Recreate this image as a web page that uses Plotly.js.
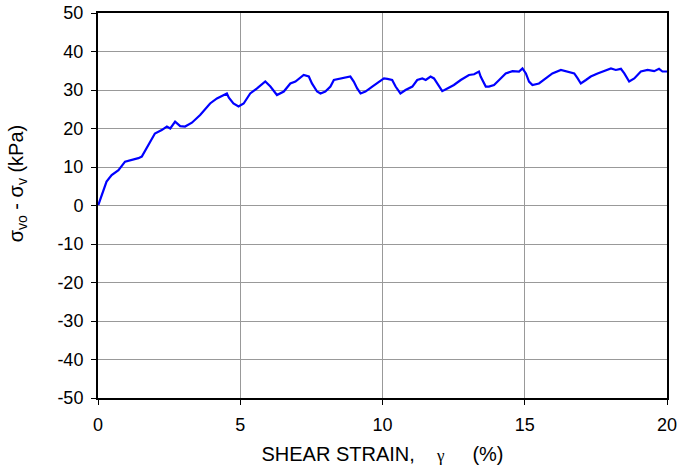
<!DOCTYPE html>
<html>
<head>
<meta charset="utf-8">
<script src="https://cdn.plot.ly/plotly-3.0.1.min.js"></script>
<style>html,body{margin:0;padding:0;background:#fff;}</style>
</head>
<body>
<div id="chart" style="width:686px;height:465px;"></div>
<script>
// Shear strain (%) and stress change (kPa)
const shearStrain = [0.01,0.13,0.3,0.48,0.72,0.95,1.19,1.42,1.54,1.77,2.0,2.24,2.42,2.54,2.71,2.89,3.06,3.3,
  3.59,3.94,4.18,4.53,4.6,4.76,4.94,5.12,5.35,5.59,5.88,6.06,6.29,6.53,6.76,
  6.94,7.23,7.41,7.52,7.7,7.82,7.99,8.17,8.29,8.58,8.87,8.99,9.11,9.23,9.4,9.64,9.87,
  10.05,10.17,10.34,10.46,10.63,10.81,11.05,11.22,11.4,11.52,11.69,11.81,11.98,12.1,12.28,12.51,12.75,13.04,13.22,13.39,
  13.45,13.63,13.74,13.92,14.1,14.33,14.57,14.8,14.92,15.04,15.15,15.27,15.5,15.74,15.97,16.27,16.5,16.74,
  16.86,16.97,17.15,17.32,17.56,17.79,18.03,18.2,18.38,18.5,18.67,18.85,19.08,19.32,19.55,19.72,19.84,20.0];
const stressChange = [0.1,2.7,6.2,7.9,9.2,11.4,11.8,12.3,12.7,15.7,18.7,19.6,20.5,20.0,21.8,20.6,20.5,21.5,
  23.5,26.5,27.8,29.1,28.0,26.5,25.7,26.5,29.1,30.4,32.2,30.9,28.7,29.6,31.7,
  32.2,33.9,33.5,31.7,29.6,29.1,29.6,30.9,32.6,33.0,33.5,32.2,30.4,29.1,29.6,30.9,32.2,
  33.0,32.9,32.6,30.9,29.1,30.0,30.9,32.6,33.0,32.6,33.5,33.0,30.9,29.7,30.4,31.3,32.6,33.9,34.1,34.8,
  33.5,30.9,30.9,31.3,32.6,34.3,34.9,34.8,35.6,34.3,32.2,31.3,31.7,33.0,34.3,35.2,34.8,34.3,
  33.0,31.7,32.6,33.5,34.3,34.9,35.6,35.2,35.5,34.3,32.2,33.0,34.8,35.2,34.9,35.5,34.8,34.8];
const xTicks = [0,5,10,15,20];
const yTicks = [-50,-40,-30,-20,-10,0,10,20,30,40,50];

const trace = {
  x: shearStrain, y: stressChange, type: 'scatter', mode: 'lines',
  line: {color: '#0000ff', width: 2.2}, hoverinfo: 'skip'
};
const fam = 'Liberation Sans, Arial, sans-serif';
const tickFont = {family: fam, size: 18, color: '#000'};
const layout = {
  width: 686, height: 465,
  margin: {l: 98, r: 19, t: 13, b: 67},
  paper_bgcolor: '#fff', plot_bgcolor: '#fff',
  showlegend: false, font: tickFont,
  xaxis: {
    range: [0, 20], tickvals: xTicks, ticktext: xTicks.map(String),
    showgrid: true, gridcolor: '#999', gridwidth: 1,
    showline: true, linecolor: '#000', linewidth: 2, mirror: true,
    ticks: 'outside', ticklen: 5, tickcolor: '#000', tickwidth: 1,
    ticklabelstandoff: 4,
    zeroline: false, tickfont: tickFont,
    title: {text: 'SHEAR STRAIN,    <span style="font-family:Liberation Serif,serif;font-size:17px">γ</span>     (%)', font: {family: fam, size: 20, color: '#000'}, standoff: 14}
  },
  yaxis: {
    range: [-50, 50], tickvals: yTicks, ticktext: yTicks.map(String),
    showgrid: true, gridcolor: '#999', gridwidth: 1,
    showline: true, linecolor: '#000', linewidth: 2, mirror: true,
    ticks: 'outside', ticklen: 5, tickcolor: '#000', tickwidth: 1,
    ticklabelstandoff: 4,
    zeroline: false, tickfont: tickFont
  },
  annotations: [{
    text: 'σ<sub>vo</sub> - σ<sub>v</sub> (kPa)', textangle: -90,
    xref: 'paper', yref: 'paper', x: -0.142, y: 0.558,
    xanchor: 'center', yanchor: 'middle', showarrow: false,
    font: {family: fam, size: 20, color: '#000'}
  }]
};
Plotly.newPlot('chart', [trace], layout, {displayModeBar: false, staticPlot: true});
</script>
</body>
</html>
